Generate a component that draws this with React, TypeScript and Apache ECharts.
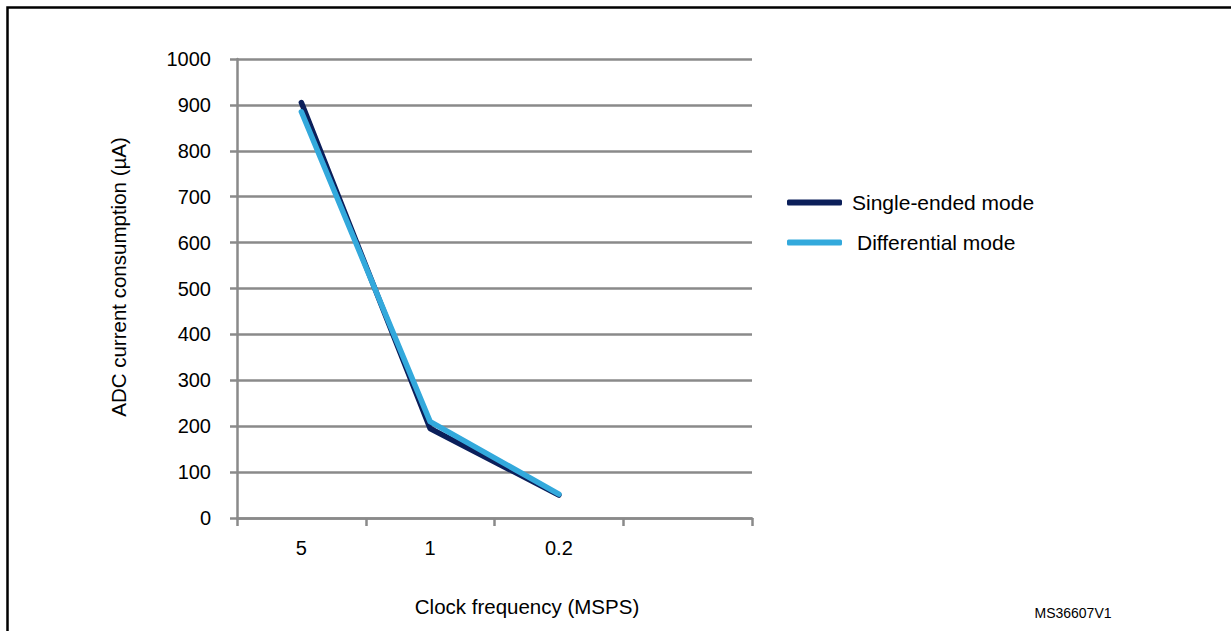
import React, { useEffect, useRef } from "react";
import * as echarts from "echarts";

const categories = ["5", "1", "0.2", ""];
const singleEnded = [905, 195, 50, null];
const differential = [885, 210, 52, null];
const yTicks = { min: 0, max: 1000, interval: 100 };
const seriesNames = ["Single-ended mode", "Differential mode"];
const xAxisName = "Clock frequency (MSPS)";
const yAxisName = "ADC current consumption (µA)";
const figureId = "MS36607V1";

const FONT = "'Liberation Sans', Arial, sans-serif";
const GRAY = "#8a8a8a";

export default function App() {
  const ref = useRef<HTMLDivElement>(null);
  useEffect(() => {
    if (!ref.current) return;
    const chart = echarts.init(ref.current, null, { renderer: "svg" });
    chart.setOption({
      animation: false,
      backgroundColor: "#ffffff",
      textStyle: { fontFamily: FONT },
      grid: { left: 237, right: 479, top: 59, bottom: 113 },
      xAxis: {
        type: "category",
        data: categories,
        boundaryGap: true,
        axisLine: { lineStyle: { color: GRAY, width: 2.5 } },
        axisTick: { show: true, length: 8, lineStyle: { color: GRAY, width: 2.5 } },
        axisLabel: { fontSize: 20, color: "#000", margin: 20, fontFamily: FONT },
        splitLine: { show: false },
      },
      yAxis: {
        type: "value",
        min: yTicks.min,
        max: yTicks.max,
        interval: yTicks.interval,
        axisLine: { show: true, lineStyle: { color: GRAY, width: 2.5 } },
        axisTick: { show: true, length: 7, lineStyle: { color: GRAY, width: 2.5 } },
        axisLabel: {
          fontSize: 20,
          color: "#000",
          margin: 26,
          fontFamily: FONT,
          formatter: (v: number) => String(v),
        },
        splitLine: { show: true, lineStyle: { color: GRAY, width: 2.5 } },
      },
      legend: [
        {
          data: [seriesNames[0]],
          left: 782,
          top: 187,
          itemWidth: 55,
          itemHeight: 6,
          icon: "roundRect",
          textStyle: { fontSize: 21, color: "#000", fontFamily: FONT, padding: [0, 0, 0, 5] },
        },
        {
          data: [seriesNames[1]],
          left: 782,
          top: 227,
          itemWidth: 55,
          itemHeight: 6,
          icon: "roundRect",
          textStyle: { fontSize: 21, color: "#000", fontFamily: FONT, padding: [0, 0, 0, 10] },
        },
      ],
      series: [
        {
          name: seriesNames[0],
          type: "line",
          data: singleEnded,
          showSymbol: false,
          symbol: "none",
          color: "#0b1f5a",
          lineStyle: { width: 5.5, color: "#0b1f5a", cap: "round", join: "round" },
          z: 2,
        },
        {
          name: seriesNames[1],
          type: "line",
          data: differential,
          showSymbol: false,
          symbol: "none",
          color: "#33a9dc",
          lineStyle: { width: 5.5, color: "#33a9dc", cap: "round", join: "round" },
          z: 3,
        },
      ],
      graphic: [
        {
          type: "rect",
          left: 5,
          top: 5,
          shape: { width: 1400, height: 800 },
          style: { fill: "none", stroke: "#000", lineWidth: 2.5 },
          silent: true,
          z: 0,
        },
        {
          type: "text",
          x: 118,
          y: 277,
          rotation: Math.PI / 2,
          style: {
            text: yAxisName,
            fontSize: 20.5,
            fill: "#000",
            fontFamily: FONT,
            align: "center",
            verticalAlign: "middle",
          },
        },
        {
          type: "text",
          x: 527,
          y: 606,
          style: {
            text: xAxisName,
            fontSize: 20.5,
            fill: "#000",
            fontFamily: FONT,
            align: "center",
            verticalAlign: "middle",
          },
        },
        {
          type: "text",
          x: 1073,
          y: 613,
          style: {
            text: figureId,
            fontSize: 14,
            fill: "#000",
            fontFamily: FONT,
            align: "center",
            verticalAlign: "middle",
          },
        },
      ],
    });
    return () => chart.dispose();
  }, []);
  return (
    <div
      ref={ref}
      style={{ position: "fixed", left: 0, top: 0, width: 1231, height: 631 }}
    />
  );
}
